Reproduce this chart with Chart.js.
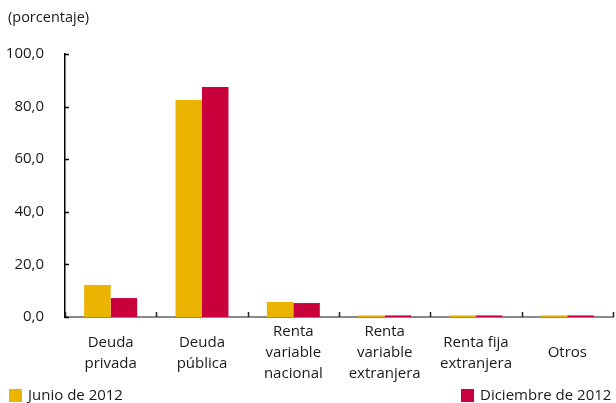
<!DOCTYPE html>
<html><head><meta charset="utf-8">
<script src="https://cdn.jsdelivr.net/npm/chart.js@4"></script>
<style>
html,body{margin:0;padding:0;background:#fff;}
#wrap{position:relative;width:616px;height:403px;font-family:"Open Sans",sans-serif;color:#1a1a1a;}
canvas{position:absolute;left:0;top:0;}
.unit{position:absolute;left:8px;top:7px;font-size:14.5px;}
.lg{position:absolute;top:384px;font-size:15px;line-height:20px;white-space:nowrap;}
.sw{display:inline-block;width:13px;height:13px;vertical-align:-2px;margin-right:6px;}
</style></head>
<body>
<div id="wrap">
<canvas id="c" width="616" height="403"></canvas>
<div class="unit">(porcentaje)</div>
<div class="lg" style="left:9px"><span class="sw" id="sw0"></span><span id="lg0"></span></div>
<div class="lg" style="left:461px"><span class="sw" id="sw1"></span><span id="lg1"></span></div>
</div>
<script>
const categories = [["Deuda","privada"],["Deuda","pública"],["Renta","variable","nacional"],["Renta","variable","extranjera"],["Renta fija","extranjera"],["Otros"]];
const seriesNames = ["Junio de 2012","Diciembre de 2012"];
const junio = [12.2, 82.5, 5.7, 0.6, 0.6, 0.6];
const diciembre = [7.2, 87.5, 5.3, 0.6, 0.6, 0.6];
const yTicks = [0, 20, 40, 60, 80, 100];
const colors = ["#EBB400", "#C9003C"];

document.getElementById('sw0').style.background = colors[0];
document.getElementById('sw1').style.background = colors[1];
document.getElementById('lg0').textContent = seriesNames[0];
document.getElementById('lg1').textContent = seriesNames[1];

const innerTicks = {
  id: 'innerTicks',
  afterDraw(chart) {
    const ctx = chart.ctx, x = chart.scales.x, y = chart.scales.y;
    ctx.save();
    ctx.strokeStyle = '#000';
    ctx.lineWidth = 1.5;
    yTicks.forEach(v => {
      const py = Math.round(y.getPixelForValue(v)) + 0.5;
      ctx.beginPath(); ctx.moveTo(x.left, py); ctx.lineTo(x.left + 4, py); ctx.stroke();
    });
    ctx.strokeStyle = '#222';
    for (let i = 0; i <= categories.length; i++) {
      const px = Math.round(x.getPixelForValue(i - 0.5)) + 0.5;
      ctx.beginPath(); ctx.moveTo(px, y.bottom); ctx.lineTo(px, y.bottom - 5); ctx.stroke();
    }
    ctx.restore();
  }
};

new Chart(document.getElementById('c'), {
  type: 'bar',
  data: {
    labels: categories,
    datasets: [
      {label: seriesNames[0], data: junio, backgroundColor: colors[0]},
      {label: seriesNames[1], data: diciembre, backgroundColor: colors[1]}
    ]
  },
  options: {
    responsive: false,
    animation: false,
    devicePixelRatio: 1,
    layout: {padding: {left: 0, right: 3, top: 54, bottom: 0}},
    plugins: {legend: {display: false}, tooltip: {enabled: false}},
    datasets: {bar: {categoryPercentage: 0.58, barPercentage: 1.0}},
    scales: {
      x: {
        grid: {display: false},
        border: {display: true, color: '#8a8a8a', width: 2},
        ticks: {
          color: '#1a1a1a', font: {family: 'Open Sans', size: 15, lineHeight: 1.4}, padding: 7,
          maxRotation: 0, autoSkip: false, crossAlign: 'center'
        },
        afterFit(s) { s.height = 86; }
      },
      y: {
        min: 0, max: 100,
        afterBuildTicks(s) { s.ticks = yTicks.map(v => ({value: v})); },
        grid: {display: false},
        border: {display: true, color: '#000', width: 1.5},
        ticks: {
          color: '#1a1a1a', font: {family: 'Open Sans', size: 15}, padding: 13,
          callback: v => v.toFixed(1).replace('.', ',')
        },
        afterFit(s) { s.width = 65; }
      }
    }
  },
  plugins: [innerTicks]
});
</script>
</body></html>
